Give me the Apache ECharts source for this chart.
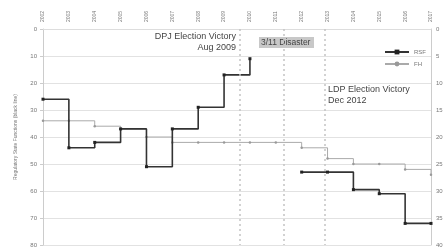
<!DOCTYPE html>
<html>
<head>
<meta charset="utf-8">
<script src="https://cdn.jsdelivr.net/npm/echarts@6/dist/echarts.min.js"></script>
<style>
  html, body { margin: 0; padding: 0; background: #fff; }
  #chart { width: 447px; height: 249px; }
</style>
</head>
<body>
<div id="chart"></div>
<script>
// years on the top axis
const years = [2002, 2003, 2004, 2005, 2006, 2007, 2008, 2009, 2010, 2011, 2012, 2013, 2014, 2015, 2016, 2017];
// RSF (black line, left axis) - null = no data
const rsfValues = [26, 44, 42, 37, 51, 37, 29, 17, 11, null, 53, 53, 59.5, 61, 72, 72];
// FH (grey line, right axis)
const fhValues = [17, 17, 18, 18.5, 20, 21, 21, 21, 21, 21, 22, 24, 25, 25, 26, 27];
// event lines (fractional years)
const events = [2009.6, 2011.3, 2012.9];

const chart = echarts.init(document.getElementById('chart'));

// split RSF at the gap so the step line stops at the last point
const rsfParts = [];
let part = [];
years.forEach((y, i) => {
    if (rsfValues[i] == null) {
        if (part.length) rsfParts.push(part);
        part = [];
    } else {
        part.push([y, rsfValues[i]]);
    }
});
if (part.length) rsfParts.push(part);

const fhData = years.map((y, i) => [y, fhValues[i]]);

const font = 'Liberation Sans, Arial, sans-serif';

const rsfSeries = rsfParts.map((d, k) => ({
    name: 'RSF',
    type: 'line',
    step: 'end',
    yAxisIndex: 0,
    data: d,
    symbol: 'rect',
    symbolSize: 3,
    itemStyle: { color: '#222' },
    lineStyle: { color: '#333', width: 1.6 },
    z: 3,
    markLine: k === 0 ? {
        silent: true,
        symbol: ['none', 'none'],
        label: { show: false },
        lineStyle: { color: '#c4c4c4', type: [2, 3], width: 1.5 },
        data: events.map(e => ({ xAxis: e }))
    } : undefined
}));

const option = {
    animation: false,
    textStyle: { fontFamily: font },
    grid: { left: 43, right: 16, top: 29, bottom: 4 },
    legend: {
        orient: 'vertical',
        left: 379,
        top: 44,
        itemWidth: 24,
        itemHeight: 6,
        itemGap: 6,
        textStyle: { fontSize: 6, color: '#777' },
        data: ['RSF', 'FH']
    },
    xAxis: {
        type: 'value',
        position: 'top',
        min: 2002,
        max: 2017,
        interval: 1,
        axisLine: { show: true, lineStyle: { color: '#ddd' } },
        axisTick: { show: false },
        splitLine: { show: false },
        axisLabel: {
            rotate: 90,
            fontSize: 5,
            color: '#777',
            margin: 7,
            formatter: v => String(v)
        }
    },
    yAxis: [
        {
            type: 'value',
            inverse: true,
            min: 0,
            max: 80,
            interval: 10,
            name: 'Regulatory State Functions (black line)',
            nameLocation: 'middle',
            nameGap: 25,
            nameTextStyle: { fontSize: 5, color: '#777' },
            axisLine: { show: true, lineStyle: { color: '#ccc' } },
            axisTick: { show: true, length: 3, lineStyle: { color: '#ccc' } },
            axisLabel: { fontSize: 6, color: '#777', margin: 6 },
            splitLine: { show: true, lineStyle: { color: '#e2e2e2', width: 1 } }
        },
        {
            type: 'value',
            inverse: true,
            min: 0,
            max: 40,
            interval: 5,
            axisLine: { show: true, lineStyle: { color: '#ccc' } },
            axisTick: { show: false },
            axisLabel: { fontSize: 6, color: '#777', margin: 5 },
            splitLine: { show: false }
        }
    ],
    series: rsfSeries.concat([
        {
            name: 'FH',
            type: 'line',
            step: 'end',
            yAxisIndex: 1,
            data: fhData,
            symbol: 'circle',
            symbolSize: 2.5,
            itemStyle: { color: '#999' },
            lineStyle: { color: '#aaa', width: 1 },
            z: 2
        }
    ]),
    graphic: [
        {
            type: 'text', right: 447 - 236, top: 32,
            style: { text: 'DPJ Election Victory', fontSize: 9, fill: '#444', textAlign: 'right', fontFamily: font }
        },
        {
            type: 'text', right: 447 - 236, top: 43,
            style: { text: 'Aug 2009', fontSize: 9, fill: '#444', textAlign: 'right', fontFamily: font }
        },
        {
            type: 'rect', left: 259, top: 37, shape: { width: 55, height: 11 },
            style: { fill: '#c8c8c8' }
        },
        {
            type: 'text', left: 261, top: 38,
            style: { text: '3/11 Disaster', fontSize: 8.5, fill: '#444', fontFamily: font }
        },
        {
            type: 'text', left: 328, top: 85,
            style: { text: 'LDP Election Victory', fontSize: 9, fill: '#444', fontFamily: font }
        },
        {
            type: 'text', left: 328, top: 96,
            style: { text: 'Dec 2012', fontSize: 9, fill: '#444', fontFamily: font }
        }
    ]
};

chart.setOption(option);
</script>
</body>
</html>
